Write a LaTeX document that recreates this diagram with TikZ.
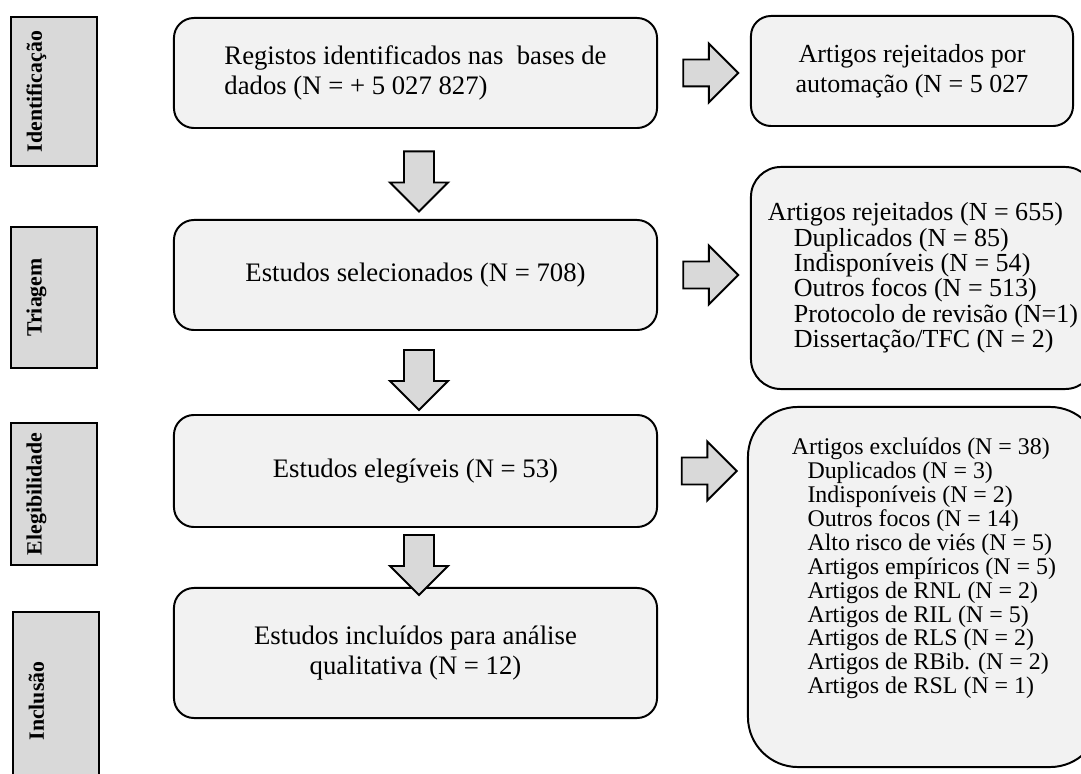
\documentclass[tikz,border=0pt]{standalone}
\usepackage{fontspec}
\setmainfont{Liberation Serif}
\usetikzlibrary{shapes.arrows,calc}

\definecolor{boxgray}{HTML}{F2F2F2}
\definecolor{stagegray}{HTML}{D9D9D9}

\tikzset{
	mainbox/.style={draw, line width=1.4pt, rounded corners=0.5cm, fill=boxgray, minimum width=12.075cm, align=center, font=\fontsize{19}{21.5}\selectfont},
	sidebox/.style={draw, line width=1.4pt, fill=boxgray, align=center, font=\fontsize{18.5}{18}\selectfont},
	stagebox/.style={draw, line width=1pt, fill=stagegray, minimum width=2.15cm},
	stagetext/.style={rotate=90, anchor=north, inner sep=0pt, font=\fontsize{15.5}{17}\selectfont\bfseries},
	downarrow/.style={single arrow, draw, line width=1.4pt, fill=stagegray, rotate=-90, minimum height=1.5cm, minimum width=1.4cm, single arrow head extend=0.35cm, inner sep=0.35cm},
	rightarrow/.style={single arrow, draw, line width=1.4pt, fill=stagegray, minimum height=1.375cm, minimum width=1.425cm, single arrow head extend=0.4cm, inner sep=0.3125cm}
}

\begin{document}
\begin{tikzpicture}[x=0.025cm, y=-0.025cm]
	\useasboundingbox (0,0) rectangle (1081,774);
	\clip (0,0) rectangle (1081,774);

	\node[stagebox, minimum height=3.725cm] (ident) at (54,91.5) {};
	\node[stagebox, minimum height=3.525cm] (triag) at (54,297.5) {};
	\node[stagebox, minimum height=3.55cm] (eleg) at (54,494) {};
	\node[stagebox, minimum height=4.45cm] (incl) at (56,701) {};
	\node[stagetext] at ([xshift=0.4cm]ident.west) {Identificação};
	\node[stagetext] at ([xshift=0.4cm]triag.west) {Triagem};
	\node[stagetext] at ([xshift=0.4cm]eleg.west) {Elegibilidade};
	\node[stagetext] at ([xshift=0.4cm]incl.west) {Inclusão};

	\node[mainbox, minimum height=2.75cm, align=left] (b1) at (415.5,73) {Registos identificados nas\ \ bases de\\dados (N = + 5 027 827)};
	\node[mainbox, minimum height=2.75cm] (b2) at (415.5,275) {Estudos selecionados (N = 708)};
	\node[mainbox, minimum height=2.8cm] (b3) at (415.5,471) {Estudos elegíveis (N = 53)};
	\node[mainbox, minimum height=3.25cm] (b4) at (415.5,653) {Estudos incluídos para análise\\qualitativa (N = 12)};

	\node[sidebox, rounded corners=0.5cm, minimum width=8.05cm, minimum height=2.75cm, font=\fontsize{18.5}{21.5}\selectfont] (r1) at (912,71) {Artigos rejeitados por\\automação (N = 5 027};
	\node[sidebox, rounded corners=0.75cm, minimum width=8.6cm, minimum height=5.55cm, align=left] (r2) at (923,278) {Artigos rejeitados (N = 655)\\
		\hspace*{1em}Duplicados (N = 85)\\
		\hspace*{1em}Indisponíveis (N = 54)\\
		\hspace*{1em}Outros focos (N = 513)\\
		\hspace*{1em}Protocolo de revisão (N=1)\\
		\hspace*{1em}Dissertação/TFC (N = 2)};
	\node[sidebox, rounded corners=1.25cm, minimum width=8.8cm, minimum height=9cm, align=left, font=\fontsize{17}{17}\selectfont] (r3) at (924,587) {Artigos excluídos (N = 38)\\
		\hspace*{0.65em}Duplicados (N = 3)\\
		\hspace*{0.65em}Indisponíveis (N = 2)\\
		\hspace*{0.65em}Outros focos (N = 14)\\
		\hspace*{0.65em}Alto risco de viés (N = 5)\\
		\hspace*{0.65em}Artigos empíricos (N = 5)\\
		\hspace*{0.65em}Artigos de RNL (N = 2)\\
		\hspace*{0.65em}Artigos de RIL (N = 5)\\
		\hspace*{0.65em}Artigos de RLS (N = 2)\\
		\hspace*{0.65em}Artigos de RBib. (N = 2)\\
		\hspace*{0.65em}Artigos de RSL (N = 1)\rule[-30pt]{0pt}{0pt}};

	\node[downarrow] (a1) at ($(b1.south)!0.5!(b2.north)+(3.5,0)$) {};
	\node[downarrow] (a2) at ($(b2.south)!0.5!(b3.north)+(3.5,0)$) {};
	\node[downarrow] (a3) at ($(b3.south)!0.5!(b4.north)+(3.5,0)$) {};

	\node[rightarrow] (s1) at ($(b1.east)!0.5!(b1.east -| r1.west)$) {};
	\node[rightarrow] (s2) at ($(b2.east)!0.5!(b2.east -| r2.west)$) {};
	\node[rightarrow] (s3) at ($(b3.east)!0.5!(b3.east -| r3.west)$) {};
\end{tikzpicture}
\end{document}
